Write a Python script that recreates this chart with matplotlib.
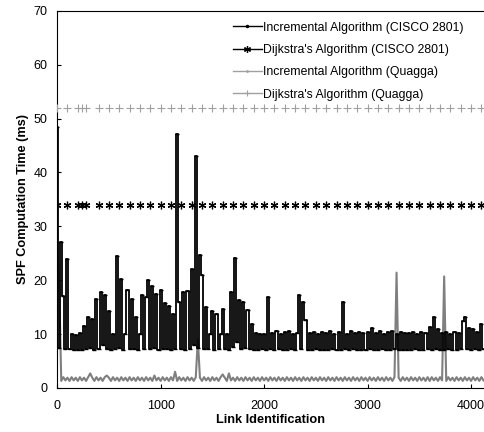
import numpy as np
import matplotlib
matplotlib.use('Agg')
import matplotlib.pyplot as plt
from matplotlib.lines import Line2D

plt.rcParams['font.family'] = ['Liberation Sans', 'DejaVu Sans']

# link ids, one sample every 20 links
link_ids = np.arange(0, 4121, 20)

# Incremental Algorithm (CISCO 2801), ms
inc_cisco = [
    48.5, 7.4, 27.0, 17.0, 7.3, 24.0, 7.2, 10.1, 7.0, 9.9,
    7.1, 10.2, 7.0, 11.5, 7.2, 13.2, 7.4, 12.8, 7.1, 16.5,
    7.2, 17.8, 8.0, 17.2, 7.3, 14.3, 7.1, 10.1, 7.2, 24.4,
    7.4, 20.2, 7.1, 10.1, 18.1, 7.3, 16.5, 7.2, 13.2, 7.1,
    10.0, 17.2, 7.3, 16.8, 20.0, 7.2, 19.0, 7.4, 17.5, 7.1,
    18.2, 7.3, 15.7, 7.2, 15.2, 7.1, 13.8, 7.3, 47.2, 16.0,
    7.2, 17.8, 7.1, 18.0, 7.3, 22.0, 8.0, 43.0, 7.4, 24.6,
    20.9, 7.2, 15.1, 7.3, 10.1, 14.3, 7.1, 13.8, 7.3, 10.0,
    14.7, 7.2, 10.1, 7.1, 17.8, 7.6, 24.2, 8.5, 16.3, 7.3,
    16.0, 7.4, 14.5, 7.2, 11.9, 7.1, 10.2, 7.0, 10.0, 7.2,
    10.1, 7.1, 16.9, 7.2, 10.2, 7.0, 10.5, 7.2, 10.1, 7.0,
    10.3, 7.1, 10.6, 7.2, 10.1, 7.0, 10.2, 17.2, 7.3, 16.0,
    12.6, 7.1, 10.2, 7.0, 10.4, 7.2, 10.1, 7.1, 10.3, 7.0,
    10.2, 7.1, 10.5, 7.2, 10.0, 7.1, 10.3, 7.0, 15.9, 7.2,
    10.1, 7.0, 10.6, 7.2, 10.2, 7.1, 10.4, 7.0, 10.2, 7.1,
    10.3, 7.2, 11.1, 7.0, 10.2, 7.1, 10.5, 7.2, 10.1, 7.0,
    10.4, 7.1, 10.6, 7.2, 10.1, 7.0, 10.3, 7.1, 10.2, 7.0,
    10.2, 7.1, 10.4, 7.2, 10.1, 7.0, 10.3, 7.1, 10.2, 7.2,
    11.4, 7.1, 13.2, 7.3, 11.0, 7.1, 10.2, 7.0, 10.3, 7.2,
    10.1, 7.0, 10.4, 7.1, 10.2, 7.2, 12.5, 13.2, 7.3, 11.2,
    7.1, 11.0, 7.2, 10.3, 7.0, 11.8, 7.2,
]

# Incremental Algorithm (Quagga), ms
inc_quagga = [
    28.0, 19.0, 1.3, 2.0, 1.4, 1.9, 1.3, 2.0, 1.4, 1.9,
    1.3, 2.0, 1.4, 1.9, 1.3, 2.0, 2.7, 1.9, 1.3, 2.0,
    1.4, 1.9, 1.3, 2.0, 2.3, 1.9, 1.3, 2.0, 1.4, 1.9,
    1.3, 2.0, 1.4, 1.9, 1.3, 2.0, 1.4, 1.9, 1.3, 2.0,
    1.4, 1.9, 1.3, 2.0, 1.4, 1.9, 1.3, 2.3, 1.4, 1.9,
    1.3, 2.0, 1.4, 1.9, 1.3, 2.0, 1.4, 3.0, 1.3, 2.0,
    1.4, 1.9, 1.3, 2.0, 1.4, 1.9, 1.3, 2.0, 9.0, 1.9,
    1.3, 2.0, 1.4, 1.9, 1.3, 2.0, 1.4, 1.9, 1.3, 2.0,
    2.5, 1.9, 1.3, 2.7, 1.4, 1.9, 1.3, 2.0, 1.4, 1.9,
    1.3, 2.0, 1.4, 1.9, 1.3, 2.0, 1.4, 1.9, 1.3, 2.0,
    1.4, 1.9, 1.3, 2.0, 1.4, 1.9, 1.3, 2.0, 1.4, 1.9,
    1.3, 2.0, 1.4, 1.9, 1.3, 2.0, 1.4, 1.9, 1.3, 2.0,
    1.4, 1.9, 1.3, 2.0, 1.4, 1.9, 1.3, 2.0, 1.4, 1.9,
    1.3, 2.0, 1.4, 1.9, 1.3, 2.0, 1.4, 1.9, 1.3, 2.0,
    1.4, 1.9, 1.3, 2.0, 1.4, 1.9, 1.3, 2.0, 1.4, 1.9,
    1.3, 2.0, 1.4, 1.9, 1.3, 2.0, 1.4, 1.9, 1.3, 2.0,
    1.4, 1.9, 1.3, 2.0, 21.4, 1.9, 1.3, 2.0, 1.4, 1.9,
    1.3, 2.0, 1.4, 1.9, 1.3, 2.0, 1.4, 1.9, 1.3, 2.0,
    1.3, 2.0, 1.4, 1.9, 1.3, 2.0, 1.4, 20.7, 1.3, 2.0,
    1.4, 1.9, 1.3, 2.0, 1.4, 1.9, 1.3, 2.0, 1.4, 1.9,
    1.3, 2.0, 1.4, 1.9, 1.3, 2.0, 1.4,
]

# Dijkstra runs, sampled links
link_dijkstra = [0, 100, 200, 240, 280] + list(range(400, 4101, 100))
dij_cisco = [34.0] * len(link_dijkstra)
dij_quagga = [52.0] * len(link_dijkstra)

labels = ['Incremental Algorithm (CISCO 2801)', "Dijkstra's Algorithm (CISCO 2801)",
          'Incremental Algorithm (Quagga)', "Dijkstra's Algorithm (Quagga)"]

fig = plt.figure(figsize=(4.84, 4.32), dpi=100)
ax = fig.add_axes([0.118, 0.102, 0.882, 0.873])

ax.plot(link_ids, inc_quagga, color='#7f7f7f', lw=1.5, zorder=2)
ax.plot(link_ids, inc_cisco, color='black', lw=1.3, drawstyle='steps-mid',
        marker='_', ms=3.5, mew=1.0, zorder=3)
ax.plot(link_dijkstra, dij_cisco, ls='none', color='black', marker=(6, 2, 0),
        ms=5.5, mew=0.9, zorder=4)
ax.plot(link_dijkstra, dij_quagga, ls='none', color='#a0a0a0', marker='+',
        ms=6, mew=0.8, zorder=4)

ax.set_xlim(0, 4125)
ax.set_ylim(0, 70)
ax.set_xticks([0, 1000, 2000, 3000, 4000])
ax.set_yticks(range(0, 71, 10))
ax.tick_params(direction='in', length=3, labelsize=9)
ax.tick_params(axis='x', pad=9)
ax.tick_params(axis='y', pad=7)
ax.spines['right'].set_visible(False)

ax.set_xlabel('Link Identification', fontsize=9.2, fontweight='bold', labelpad=1)
ax.set_ylabel('SPF Computation Time (ms)', fontsize=9.2, fontweight='bold', labelpad=3)

leg_handles = [
    Line2D([], [], color='black', lw=1.0, marker='.', ms=3),
    Line2D([], [], color='black', lw=1.0, marker=(6, 2, 0), ms=5, mew=0.9),
    Line2D([], [], color='#a0a0a0', lw=1.0, marker='.', ms=2),
    Line2D([], [], color='#a0a0a0', lw=1.0, marker='+', ms=5, mew=0.8),
]
ax.legend(leg_handles, labels, loc='upper left', bbox_to_anchor=(0.481, 0.950),
          bbox_transform=fig.transFigure, frameon=False, fontsize=8.8,
          handlelength=2.4, labelspacing=0.85, handletextpad=0.1,
          borderpad=0, borderaxespad=0)

fig.savefig('out.png', dpi=100)
